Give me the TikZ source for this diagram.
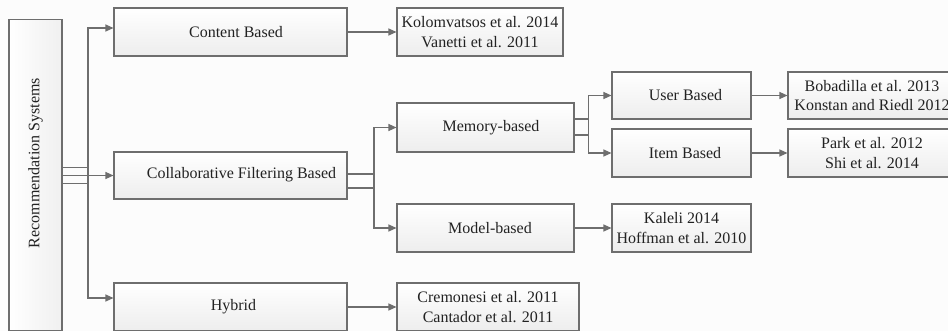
\documentclass[tikz,border=0pt]{standalone}
\usepackage{fontspec}
\setmainfont{Liberation Serif}
\usetikzlibrary{arrows.meta,calc}
\definecolor{edge}{HTML}{6E6E6E}
\definecolor{ink}{HTML}{222222}
\definecolor{paper}{HTML}{FCFCFC}
\begin{document}
\begin{tikzpicture}[x=1pt,y=-1pt,
  box/.style={draw=edge, line width=1.1pt, top color=white, bottom color=black!7,
    inner sep=0pt, minimum height=48pt},
  rootbox/.style={draw=edge, line width=1.1pt, left color=white, right color=black!6,
    inner sep=0pt},
  lbl/.style={font=\fontsize{16}{19.5}\selectfont, text=ink, align=center, inner sep=0pt},
  link/.style={draw=edge, line width=1.2pt, -{Triangle[length=8pt,width=7pt]}}]
\useasboundingbox (0,0) rectangle (948,331);
\clip (0,0) rectangle (948,331);
\fill[paper] (0,0) rectangle (948,331);

% root
\node[rootbox, minimum width=53pt, minimum height=311pt] (root) at (35.5,175) {};
\node[lbl, rotate=90] (rootT) at (35.5,163) {Recommendation Systems};

% first level
\node[box, minimum width=233pt] (cb) at (230.5,32) {};
\node[lbl] (cbT) at (236,32) {Content Based};
\node[box, minimum width=233pt, minimum height=47pt] (cf) at (230.5,175.5) {};
\node[lbl] (cfT) at (241.5,175) {Collaborative Filtering Based};
\node[box, minimum width=233pt] (hy) at (230.5,307) {};
\node[lbl] (hyT) at (233.5,307) {Hybrid};

% second level
\node[box, minimum width=166pt] (kol) at (480,32) {};
\node[lbl] (kolT) at (480,32) {Kolomvatsos et al. 2014\\Vanetti et al. 2011};
\node[box, minimum width=177pt, minimum height=49pt] (mem) at (485.5,127.5) {};
\node[lbl] (memT) at (491,127.5) {Memory-based};
\node[box, minimum width=177pt] (mod) at (485.5,228) {};
\node[lbl] (modT) at (490,228) {Model-based};
\node[box, minimum width=182pt] (crem) at (488,307) {};
\node[lbl] (cremT) at (488,307) {Cremonesi et al. 2011\\Cantador et al. 2011};

% third level
\node[box, minimum width=139pt, minimum height=47pt] (ub) at (681.5,95.5) {};
\node[lbl] (ubT) at (685.5,95.5) {User Based};
\node[box, minimum width=139pt] (ib) at (681.5,153) {};
\node[lbl] (ibT) at (685,153) {Item Based};
\node[box, minimum width=139pt] (kal) at (681.5,228) {};
\node[lbl] (kalT) at (681.5,228) {Kaleli 2014\\Hoffman et al. 2010};

% references for the user/item branches
\node[box, minimum width=168pt, minimum height=47pt] (bob) at (872,95.5) {};
\node[lbl] (bobT) at (872,95.5) {Bobadilla et al. 2013\\Konstan and Riedl 2012};
\node[box, minimum width=168pt] (park) at (872,153) {};
\node[lbl] (parkT) at (872,153) {Park et al. 2012\\Shi et al. 2014};

% connectors from the root
\draw[link] ([yshift=7.5pt]root.east) -| ($(root.east)!0.5!(cf.west)$) |- ([yshift=4pt]cb.west);
\draw[link] (root.east |- cf.west) -- (cf.west);
\draw[link] ([yshift=-8.5pt]root.east) -| ($(root.east)!0.5!(cf.west)$) |- ([yshift=9pt]hy.west);

% collaborative filtering branches
\draw[link] ([yshift=1.5pt]cf.east) -| ($(cf.east)!0.54!(mem.west)$) |- (mem.west);
\draw[link] ([yshift=-12.5pt]cf.east) -| ($(cf.east)!0.54!(mem.west)$) |- (mod.west);

% memory-based branches
\draw[link] ([yshift=8.5pt]mem.east) -| ($(mem.east)!0.37!(ub.west)$) |- (ub.west);
\draw[link] ([yshift=-7.5pt]mem.east) -| ($(mem.east)!0.37!(ub.west)$) |- (ib.west);

% leaves
\draw[link] (cb.east) -- (kol.west);
\draw[link] (hy.east) -- (crem.west);
\draw[link] (mod.east) -- (kal.west);
\draw[link] (ub.east) -- (bob.west);
\draw[link] (ib.east) -- (park.west);
\end{tikzpicture}
\end{document}
